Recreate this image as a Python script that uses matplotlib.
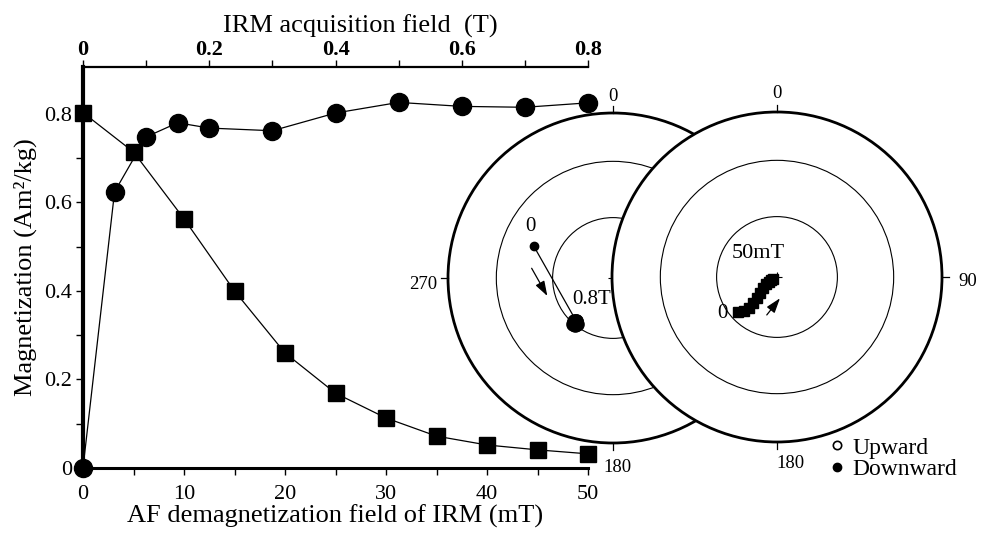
import numpy as np
import matplotlib.pyplot as plt
from matplotlib.lines import Line2D
from matplotlib.patches import Circle

plt.rcParams['font.family'] = ['Liberation Serif', 'DejaVu Serif']

# AF demagnetization of IRM (bottom axis, mT)
af_field = [0, 5, 10, 15, 20, 25, 30, 35, 40, 45, 50]
af_mag = [0.803, 0.714, 0.563, 0.400, 0.260, 0.169, 0.113, 0.072, 0.052, 0.041, 0.032]

# IRM acquisition (top axis, T)
irm_field = [0, 0.05, 0.1, 0.15, 0.2, 0.3, 0.4, 0.5, 0.6, 0.7, 0.8]
irm_mag = [0, 0.624, 0.748, 0.780, 0.768, 0.762, 0.802, 0.826, 0.817, 0.815, 0.825]

# directions (declination, inclination) for the two equal-area nets
irm_dec = [292, 221, 222, 220, 219, 221, 220, 218, 221, 219, 220]
irm_inc = [47, 62, 61, 61, 60, 62, 61, 61, 60, 61, 61]
af_dec = [228, 224, 222, 223, 224, 227, 232, 237, 238, 243, 243]
af_inc = [64.0, 66.6, 69.4, 72.6, 75.7, 78.5, 81.2, 83.6, 85.4, 86.7, 87.8]


def eqarea(dec, inc):
    d = np.radians(np.asarray(dec, dtype=float))
    i = np.radians(np.abs(np.asarray(inc, dtype=float)))
    r = np.sqrt(2) * np.sin((np.pi / 2 - i) / 2)
    return r * np.sin(d), r * np.cos(d)


W, H = 981, 540
fig = plt.figure(figsize=(W / 100, H / 100), dpi=100)

# ---- main plot ----
ax = fig.add_axes([83 / W, 1 - 468 / H, 505 / W, 401 / H])
ax.plot(af_field, af_mag, color='black', lw=0.9, marker='s', ms=11,
        clip_on=False, zorder=3)
ax.set_xlim(0, 50)
ax.set_ylim(0, 0.906)
ax.spines['right'].set_visible(False)
ax.spines['top'].set_visible(False)
ax.spines['left'].set_linewidth(3)
ax.spines['bottom'].set_linewidth(2.2)
ax.set_xticks(np.arange(0, 51, 10))
ax.set_xticks(np.arange(0, 51, 5), minor=True)
ax.set_yticks([0, 0.2, 0.4, 0.6, 0.8])
ax.set_yticklabels(['0', '0.2', '0.4', '0.6', '0.8'])
ax.set_yticks(np.arange(0.1, 0.85, 0.2), minor=True)
ax.tick_params(axis='both', which='both', direction='out', length=5, width=1,
               labelsize=16)
ax.tick_params(axis='x', which='major', pad=7)
ax.tick_params(axis='y', which='major', pad=3)
ax.set_xlabel('AF demagnetization field of IRM (mT)', fontsize=19, labelpad=1)
ax.set_ylabel('Magnetization (Am²/kg)', fontsize=19, labelpad=5)

ax2 = ax.twiny()
ax2.plot(irm_field, irm_mag, color='black', lw=0.9, marker='o', ms=13,
         clip_on=False, zorder=3)
ax2.set_xlim(0, 0.8)
for s in ['right', 'bottom', 'left']:
    ax2.spines[s].set_visible(False)
ax2.spines['top'].set_linewidth(1.6)
ax2.set_xticks([0, 0.2, 0.4, 0.6, 0.8])
ax2.set_xticklabels(['0', '0.2', '0.4', '0.6', '0.8'], fontweight='bold')
ax2.set_xticks(np.arange(0.1, 0.8, 0.2), minor=True)
ax2.tick_params(axis='x', which='both', direction='out', length=5, width=1,
                labelsize=16, pad=0)
ax2.set_xlabel('IRM acquisition field  (T)', fontsize=19)
ax2.xaxis.set_label_coords(0.55, 1.085)


# ---- equal-area nets ----
def make_net(cx, cy, R, z, labels):
    L = 1.3
    net = fig.add_axes([(cx - L * R) / W, 1 - (cy + L * R) / H,
                        2 * L * R / W, 2 * L * R / H], zorder=z)
    net.set_xlim(-L, L)
    net.set_ylim(-L, L)
    net.axis('off')
    net.patch.set_alpha(0)
    net.add_patch(Circle((0, 0), 1, fc='white', ec='black', lw=2.0, zorder=1))
    for inc in (30, 60):
        r = np.hypot(*eqarea(0, inc))
        net.add_patch(Circle((0, 0), r, fill=False, ec='black', lw=0.8, zorder=2))
    net.plot(0, 0, marker='+', color='black', ms=7, mew=0.8, zorder=3)
    for ang, txt, tx, ty, ha in labels:
        a = np.radians(ang)
        net.plot([np.sin(a), 1.045 * np.sin(a)], [np.cos(a), 1.045 * np.cos(a)],
                 color='black', lw=0.9, zorder=2, clip_on=False)
        net.text(tx, ty, txt, fontsize=13.5, ha=ha, va='center', clip_on=False)
    return net


R = 165
left = make_net(613, 278, R, 5, [(0, '0', 0, 1.10, 'center'),
                                 (270, '270', -1.065, -0.04, 'right'),
                                 (180, '180', 0.03, -1.15, 'center')])
right = make_net(777, 277, R, 6, [(0, '0', 0, 1.11, 'center'),
                                  (90, '90', 1.10, -0.03, 'left'),
                                  (180, '180', 0.08, -1.13, 'center')])

arrow = dict(arrowstyle='-|>,head_length=0.9,head_width=0.3', color='black',
             lw=0.9, shrinkA=0, shrinkB=0)

x, y = eqarea(irm_dec, irm_inc)
left.plot(x, y, color='black', lw=0.9, zorder=4)
left.plot(x[:1], y[:1], 'o', color='black', ms=6, zorder=5)
left.plot(x[1:], y[1:], 'o', color='black', ms=9.5, zorder=5)
left.text(x[0] - 0.02, y[0] + 0.06, '0', fontsize=15, ha='center', va='bottom')
left.text(-0.245, -0.133, '0.8T', fontsize=15, ha='left', va='center')
left.annotate('', xy=(-0.398, -0.109), xytext=(-0.493, 0.059),
              arrowprops=arrow, zorder=5)

x, y = eqarea(af_dec, af_inc)
right.plot(x, y, color='black', lw=0.9, zorder=4)
right.plot(x, y, 's', color='black', ms=7.5, zorder=5)
right.text(x[0] - 0.06, y[0] - 0.01, '0', fontsize=15, ha='right', va='center')
right.text(-0.115, 0.14, '50mT', fontsize=16, ha='center', va='center')
right.annotate('', xy=(0.018, -0.129), xytext=(-0.062, -0.230),
               arrowprops=arrow, zorder=5)

# legend
handles = [Line2D([], [], ls='none', marker='o', mfc='white', mec='black', ms=6, mew=1.2),
           Line2D([], [], ls='none', marker='o', mfc='black', mec='black', ms=6)]
fig.legend(handles, ['Upward', 'Downward'], loc='upper left',
           bbox_to_anchor=(830 / W, 1 - 437 / H), frameon=False, fontsize=17,
           handlelength=0.6, handletextpad=0.35, labelspacing=0.0,
           borderpad=0, borderaxespad=0)

fig.savefig('out.png', dpi=100)
